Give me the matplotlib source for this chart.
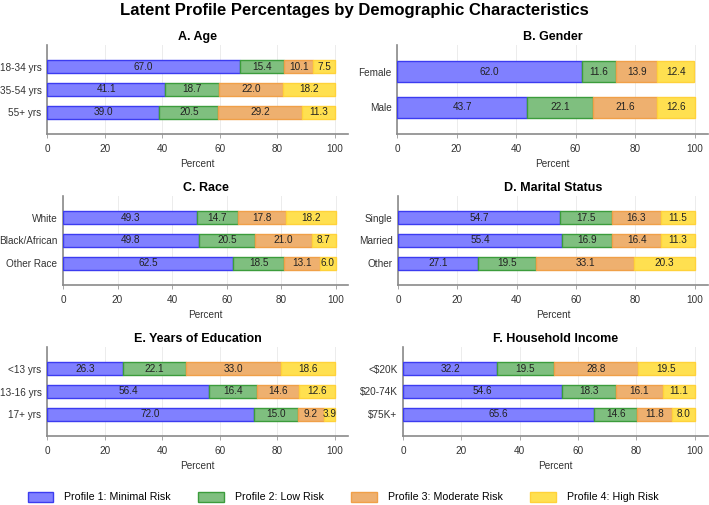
import numpy as np
import matplotlib.pyplot as plt
from matplotlib.patches import Patch

plt.rcParams['font.family'] = ['Liberation Sans', 'DejaVu Sans']

profiles = ['Profile 1: Minimal Risk', 'Profile 2: Low Risk',
            'Profile 3: Moderate Risk', 'Profile 4: High Risk']
fills = ['#8080ff', '#7fbf7f', '#eeb06f', '#ffe050']
edges = ['#3c3cf0', '#3c9c3c', '#f0a048', '#ffd23a']

# panel data: categories and profile percentages (rows = categories)
age_cats = ['18-34 yrs', '35-54 yrs', '55+ yrs']
age_vals = [[67.0, 15.4, 10.1, 7.5],
            [41.1, 18.7, 22.0, 18.2],
            [39.0, 20.5, 29.2, 11.3]]

gender_cats = ['Female', 'Male']
gender_vals = [[62.0, 11.6, 13.9, 12.4],
               [43.7, 22.1, 21.6, 12.6]]

race_cats = ['White', 'Black/African', 'Other Race']
race_vals = [[49.3, 14.7, 17.8, 18.2],
             [49.8, 20.5, 21.0, 8.7],
             [62.5, 18.5, 13.1, 6.0]]

marital_cats = ['Single', 'Married', 'Other']
marital_vals = [[54.7, 17.5, 16.3, 11.5],
                [55.4, 16.9, 16.4, 11.3],
                [27.1, 19.5, 33.1, 20.3]]

edu_cats = ['<13 yrs', '13-16 yrs', '17+ yrs']
edu_vals = [[26.3, 22.1, 33.0, 18.6],
            [56.4, 16.4, 14.6, 12.6],
            [72.0, 15.0, 9.2, 3.9]]

income_cats = ['<$20K', '$20-74K', '$75K+']
income_vals = [[32.2, 19.5, 28.8, 19.5],
               [54.6, 18.3, 16.1, 11.1],
               [65.6, 14.6, 11.8, 8.0]]

panels = [
    ('A. Age', age_cats, age_vals),
    ('B. Gender', gender_cats, gender_vals),
    ('C. Race', race_cats, race_vals),
    ('D. Marital Status', marital_cats, marital_vals),
    ('E. Years of Education', edu_cats, edu_vals),
    ('F. Household Income', income_cats, income_vals),
]

W, H = 709, 505
fig = plt.figure(figsize=(W / 100, H / 100), dpi=100)

# axes boxes in pixels: left, top, right
tops = [45, 45, 196, 196, 347, 347]
lefts = [47, 397, 63, 398, 47, 403]
rights = [348, 708, 348, 708, 348, 708]
ax_h = 89

for i, (title, cats, vals) in enumerate(panels):
    l, t, r = lefts[i], tops[i], rights[i]
    ax = fig.add_axes([l / W, 1 - (t + ax_h) / H, (r - l) / W, ax_h / H])
    vals = np.array(vals)
    y = np.arange(len(cats))
    left = np.zeros(len(cats))
    for j in range(4):
        bars = ax.barh(y, vals[:, j], left=left, height=0.58,
                       color=fills[j], edgecolor=edges[j], linewidth=1.0, zorder=3)
        ax.bar_label(bars, labels=[f'{v:.1f}' for v in vals[:, j]],
                     label_type='center', fontsize=7.2, color='#222222')
        left += vals[:, j]
    m = 0.94 if len(cats) == 3 else 0.75
    ax.set_ylim(len(cats) - 1 + m, -m)
    ax.set_xlim(0, 104.5)
    ax.set_xticks([0, 20, 40, 60, 80, 100])
    ax.set_yticks(y)
    ax.set_yticklabels(cats)
    ax.tick_params(axis='both', labelsize=7.2, colors='#333333', length=3, width=0.6)
    ax.tick_params(axis='y', length=0, pad=4)
    ax.tick_params(axis='x', color='#999999', pad=4)
    ax.grid(axis='x', color='#ececec', linewidth=0.7, zorder=0)
    ax.set_axisbelow(True)
    for s in ['top', 'right']:
        ax.spines[s].set_visible(False)
    for s in ['left', 'bottom']:
        ax.spines[s].set_color('#8a8a8a')
        ax.spines[s].set_linewidth(1.2)
    ax.set_xlabel('Percent', fontsize=7.2, color='#333333', labelpad=3.5)
    ax.set_title(title, fontsize=9, fontweight='bold', pad=3.5)

fig.suptitle('Latent Profile Percentages by Demographic Characteristics',
             fontsize=12, fontweight='bold', y=1 - 10 / H, va='center')

handles = [Patch(facecolor=fills[j], edgecolor=edges[j], linewidth=1.0) for j in range(4)]
fig.legend(handles, profiles, loc='center', bbox_to_anchor=(343 / W, 1 - 497 / H),
           ncol=4, frameon=False, fontsize=7.7, handlelength=2.4, handleheight=1.1,
           handletextpad=1.0, columnspacing=2.6)

fig.savefig('out.png', dpi=100)
